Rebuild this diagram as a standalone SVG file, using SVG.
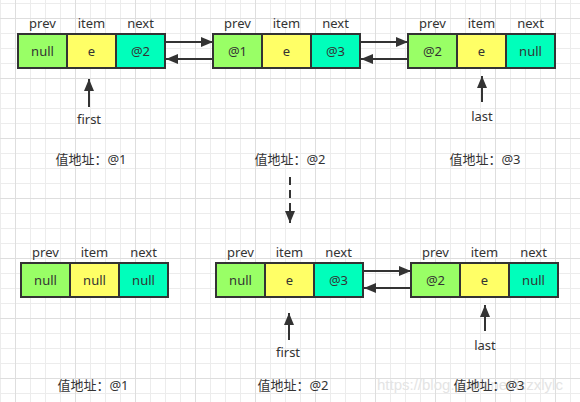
<svg xmlns="http://www.w3.org/2000/svg" width="580" height="402" viewBox="0 0 580 402">
<defs>
<pattern id="grid" patternUnits="userSpaceOnUse" x="15" y="18" width="60" height="60">
<rect x="15" y="0" width="1" height="60" fill="#ececec"/>
<rect x="30" y="0" width="1" height="60" fill="#ececec"/>
<rect x="45" y="0" width="1" height="60" fill="#ececec"/>
<rect x="0" y="15" width="60" height="1" fill="#ececec"/>
<rect x="0" y="30" width="60" height="1" fill="#ececec"/>
<rect x="0" y="45" width="60" height="1" fill="#ececec"/>
<rect x="0" y="0" width="1" height="60" fill="#dedede"/>
<rect x="0" y="0" width="60" height="1" fill="#dedede"/>
</pattern>
<marker id="ah" markerUnits="userSpaceOnUse" markerWidth="12" markerHeight="10" refX="12" refY="5" orient="auto">
<path d="M0,0 L12,5 L0,10 z" fill="#333"/>
</marker>
</defs>
<style>
.t{font-family:"Noto Sans","Noto Sans CJK SC",sans-serif;font-size:13px;fill:#333;text-anchor:middle}
.p{fill:#99FF66;stroke:#333;stroke-width:2}
.i{fill:#FFFF66;stroke:#333;stroke-width:2}
.n{fill:#00FFBB;stroke:#333;stroke-width:2}
.c{stroke:#333;stroke-width:2;fill:none;marker-end:url(#ah)}
.wm{font-family:"Liberation Sans",sans-serif;font-size:15px;fill:#e4e4e4}
</style>
<rect width="580" height="402" fill="#fff"/>
<rect width="580" height="402" fill="url(#grid)"/>

<g id="node1">
<rect class="p" x="18" y="34" width="49" height="34"/>
<rect class="i" x="67" y="34" width="49" height="34"/>
<rect class="n" x="116" y="34" width="49" height="34"/>
<text class="t" x="42.5" y="27.5">prev</text>
<text class="t" x="91.5" y="27.5">item</text>
<text class="t" x="140.5" y="27.5">next</text>
<text class="t" x="42.5" y="56">null</text>
<text class="t" x="91.5" y="56">e</text>
<text class="t" x="140.5" y="56">@2</text>
</g>
<g id="node2">
<rect class="p" x="213" y="34" width="49" height="34"/>
<rect class="i" x="262" y="34" width="49" height="34"/>
<rect class="n" x="311" y="34" width="49" height="34"/>
<text class="t" x="237.5" y="27.5">prev</text>
<text class="t" x="286.5" y="27.5">item</text>
<text class="t" x="335.5" y="27.5">next</text>
<text class="t" x="237.5" y="56">@1</text>
<text class="t" x="286.5" y="56">e</text>
<text class="t" x="335.5" y="56">@3</text>
</g>
<g id="node3">
<rect class="p" x="408" y="34" width="49" height="34"/>
<rect class="i" x="457" y="34" width="49" height="34"/>
<rect class="n" x="506" y="34" width="49" height="34"/>
<text class="t" x="432.5" y="27.5">prev</text>
<text class="t" x="481.5" y="27.5">item</text>
<text class="t" x="530.5" y="27.5">next</text>
<text class="t" x="432.5" y="56">@2</text>
<text class="t" x="481.5" y="56">e</text>
<text class="t" x="530.5" y="56">null</text>
</g>
<g id="node4">
<rect class="p" x="21" y="263" width="49" height="34"/>
<rect class="i" x="70" y="263" width="49" height="34"/>
<rect class="n" x="119" y="263" width="49" height="34"/>
<text class="t" x="45.5" y="256.5">prev</text>
<text class="t" x="94.5" y="256.5">item</text>
<text class="t" x="143.5" y="256.5">next</text>
<text class="t" x="45.5" y="285">null</text>
<text class="t" x="94.5" y="285">null</text>
<text class="t" x="143.5" y="285">null</text>
</g>
<g id="node5">
<rect class="p" x="216" y="263" width="49" height="34"/>
<rect class="i" x="265" y="263" width="49" height="34"/>
<rect class="n" x="314" y="263" width="49" height="34"/>
<text class="t" x="240.5" y="256.5">prev</text>
<text class="t" x="289.5" y="256.5">item</text>
<text class="t" x="338.5" y="256.5">next</text>
<text class="t" x="240.5" y="285">null</text>
<text class="t" x="289.5" y="285">e</text>
<text class="t" x="338.5" y="285">@3</text>
</g>
<g id="node6">
<rect class="p" x="411" y="263" width="49" height="34"/>
<rect class="i" x="460" y="263" width="49" height="34"/>
<rect class="n" x="509" y="263" width="49" height="34"/>
<text class="t" x="435.5" y="256.5">prev</text>
<text class="t" x="484.5" y="256.5">item</text>
<text class="t" x="533.5" y="256.5">next</text>
<text class="t" x="435.5" y="285">@2</text>
<text class="t" x="484.5" y="285">e</text>
<text class="t" x="533.5" y="285">null</text>
</g>

<g id="labels">
<text class="t" x="89" y="123.5">first</text>
<text class="t" x="482" y="120.5">last</text>
<text class="t" x="91" y="163.5">值地址：@1</text>
<text class="t" x="290" y="163.5">值地址：@2</text>
<text class="t" x="485" y="163.5">值地址：@3</text>
<text class="t" x="288" y="356.5">first</text>
<text class="t" x="485" y="349.5">last</text>
<text class="t" x="93" y="389.5">值地址：@1</text>
<text class="t" x="293" y="389.5">值地址：@2</text>
<text class="wm" x="377" y="389.5">https://blog.csdn.net/iczxlylc</text>
<text class="t" x="489" y="389.5">值地址：@3</text>
</g>

<g id="connectors">
<line class="c" x1="166" y1="42" x2="213" y2="42"/>
<line class="c" x1="213" y1="59" x2="166" y2="59"/>
<line class="c" x1="361" y1="42" x2="408" y2="42"/>
<line class="c" x1="408" y1="59" x2="361" y2="59"/>
<line class="c" x1="364" y1="271" x2="411" y2="271"/>
<line class="c" x1="411" y1="288" x2="364" y2="288"/>
<line class="c" x1="89" y1="107" x2="89" y2="79"/>
<line class="c" x1="482" y1="102" x2="482" y2="76"/>
<line class="c" x1="289" y1="340" x2="289" y2="313"/>
<line class="c" x1="485" y1="331" x2="485" y2="305"/>
<line class="c" x1="290" y1="177" x2="290" y2="223" stroke-dasharray="8 5"/>
</g>
</svg>
